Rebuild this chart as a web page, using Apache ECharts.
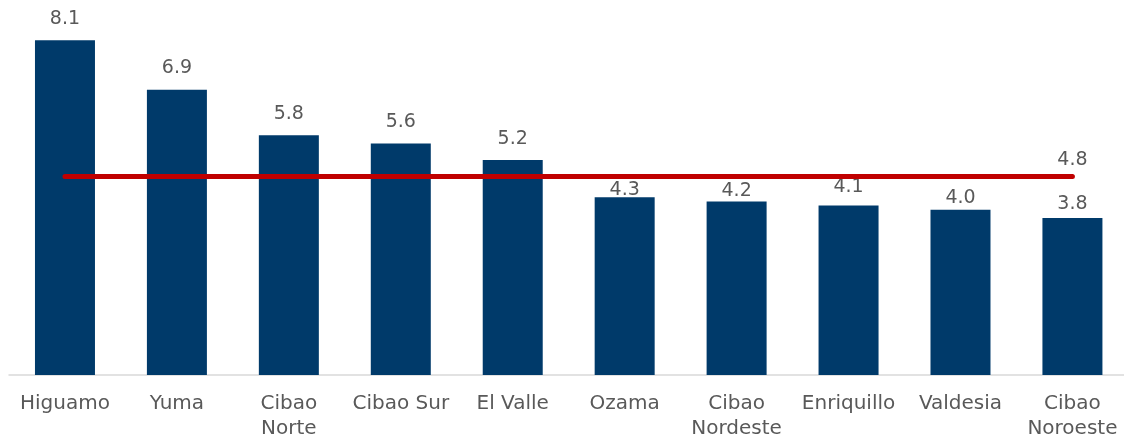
<!DOCTYPE html>
<html>
<head>
<meta charset="utf-8">
<script src="https://cdn.jsdelivr.net/npm/echarts@6/dist/echarts.min.js"></script>
<style>
  html, body { margin: 0; padding: 0; background: #fff; }
  #chart { width: 1124px; height: 439px; }
</style>
</head>
<body>
<div id="chart"></div>
<script>
const regiones = ['Higuamo', 'Yuma', 'Cibao\nNorte', 'Cibao Sur', 'El Valle', 'Ozama', 'Cibao\nNordeste', 'Enriquillo', 'Valdesia', 'Cibao\nNoroeste'];
const valores = [8.1, 6.9, 5.8, 5.6, 5.2, 4.3, 4.2, 4.1, 4.0, 3.8];
const promedio = [4.8, 4.8, 4.8, 4.8, 4.8, 4.8, 4.8, 4.8, 4.8, 4.8];

// separacion de cada etiqueta respecto a su barra (como en el original)
const separacion = [12, 12, 12, 12, 12, -2, 1, 9, 2, 4];

var grafico = echarts.init(document.getElementById('chart'));

var barras = valores.map(function (v, i) {
  return { value: v, label: { distance: separacion[i] } };
});

var opcion = {
  animation: false,
  grid: { left: 9, width: 1119.4, top: 3, bottom: 64, outerBoundsMode: 'none' },
  xAxis: {
    type: 'category',
    data: regiones,
    axisLine: { lineStyle: { color: '#D9D9D9', width: 1.5 } },
    axisTick: { show: false },
    axisLabel: {
      color: '#595959',
      fontFamily: 'DejaVu Sans',
      fontSize: 20,
      lineHeight: 25,
      margin: 16,
      interval: 0
    }
  },
  yAxis: {
    type: 'value',
    min: 0,
    max: 9,
    show: false,
    splitLine: { show: false }
  },
  series: [
    {
      type: 'bar',
      data: barras,
      barWidth: '53.6%',
      itemStyle: { color: '#003A6A' },
      label: {
        show: true,
        position: 'top',
        color: '#595959',
        fontFamily: 'DejaVu Sans',
        fontSize: 19,
        formatter: function (p) { return p.value.toFixed(1); }
      }
    },
    {
      type: 'line',
      data: promedio,
      symbol: 'circle',
      symbolSize: 1,
      showSymbol: true,
      itemStyle: { color: 'rgba(0,0,0,0)' },
      lineStyle: { color: '#C00000', width: 5, cap: 'round' },
      label: {
        show: true,
        position: 'top',
        distance: 7,
        color: '#595959',
        fontFamily: 'DejaVu Sans',
        fontSize: 19,
        formatter: function (p) {
          return p.dataIndex === promedio.length - 1 ? p.value.toFixed(1) : '';
        }
      },
      z: 3
    }
  ]
};
grafico.setOption(opcion);
</script>
</body>
</html>
